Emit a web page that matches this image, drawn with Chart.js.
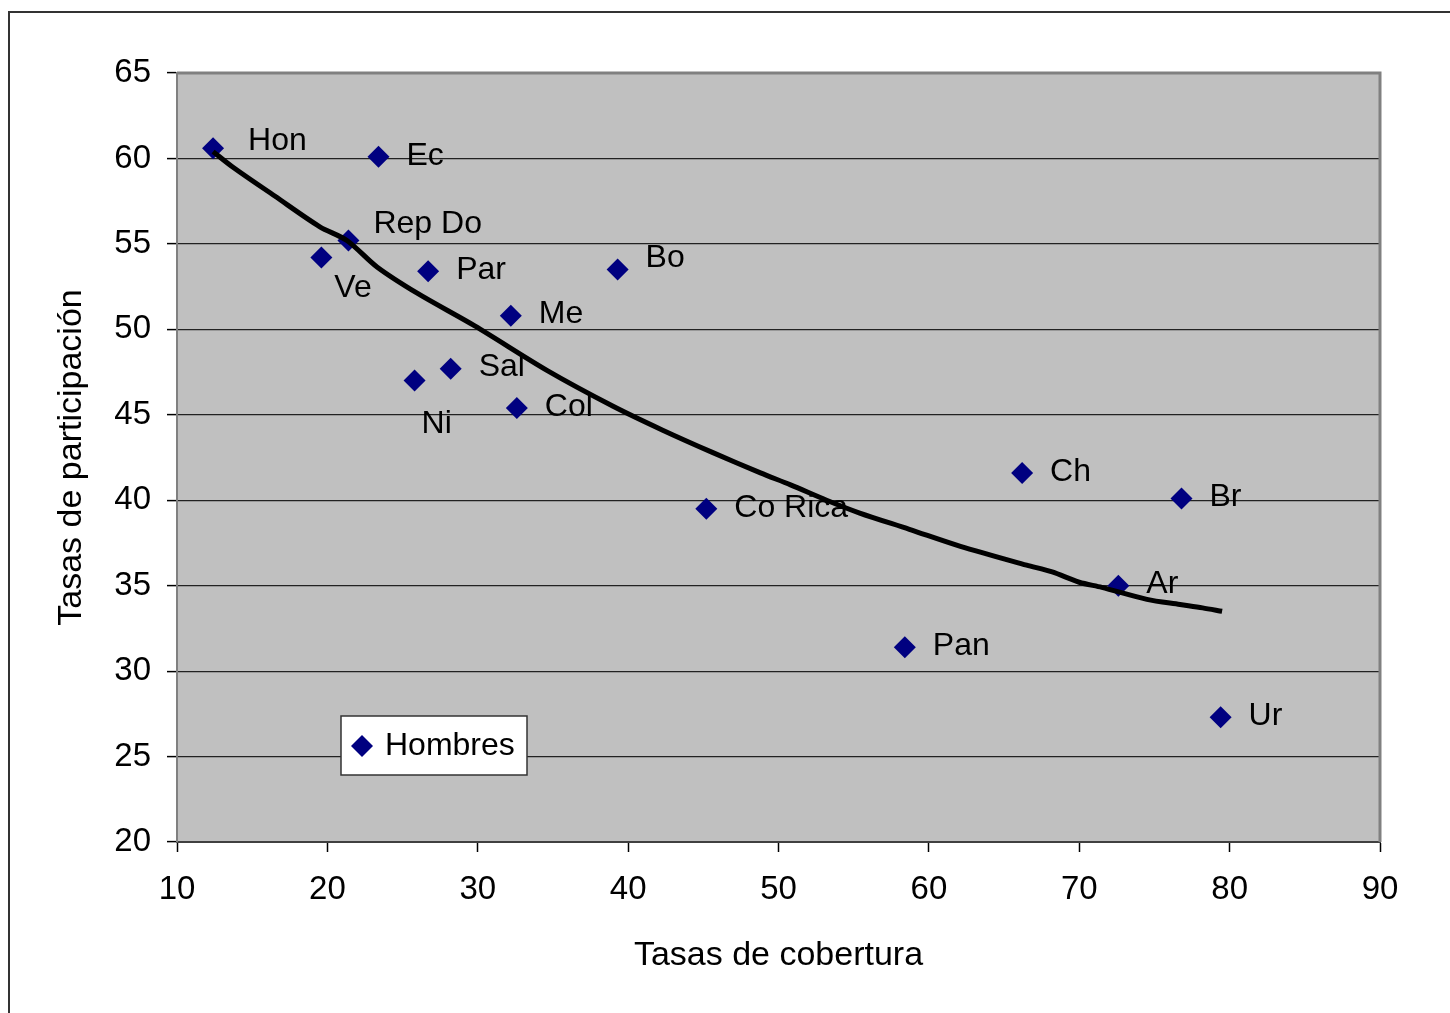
<!DOCTYPE html>
<html>
<head>
<meta charset="utf-8">
<script src="https://cdn.jsdelivr.net/npm/chart.js@4"></script>
<style>
  html, body { margin: 0; padding: 0; background: #fff; }
  #wrap { width: 1450px; height: 1013px; }
</style>
</head>
<body>
<div id="wrap"><canvas id="c" width="1450" height="1013"></canvas></div>
<script>
// ---- data ----
const countries = ["Hon", "Ec", "Rep Do", "Ve", "Par", "Bo", "Me", "Sal", "Ni", "Col", "Co Rica", "Ch", "Br", "Ar", "Pan", "Ur"];
const cobertura = [12.4, 23.4, 21.4, 19.6, 26.7, 39.3, 32.2, 28.2, 25.8, 32.6, 45.2, 66.2, 76.8, 72.6, 58.4, 79.4];
const participacion = [60.6, 60.1, 55.2, 54.2, 53.4, 53.5, 50.8, 47.7, 47.0, 45.4, 39.5, 41.6, 40.1, 35.0, 31.4, 27.3];
const trendX = [12.4, 13.7, 16.5, 19.5, 21.3, 23.3, 26.0, 29.8, 34.6, 39.0, 42.3, 45.6, 48.8, 50.8, 53.2, 55.4, 58.7, 62.1, 66.5, 68.2, 70.0, 71.5, 74.5, 76.7, 78.2, 79.5];
const trendY = [60.4, 59.5, 57.8, 56.0, 55.2, 53.65, 52.1, 50.2, 47.6, 45.5, 44.1, 42.8, 41.6, 40.9, 40.0, 39.25, 38.3, 37.3, 36.2, 35.8, 35.2, 34.9, 34.2, 33.9, 33.7, 33.5];
const seriesName = "Hombres";
const xTitle = "Tasas de cobertura";
const yTitle = "Tasas de participación";

// ---- label placement (style, not data) ----
const FONT = "'Liberation Sans', Arial, sans-serif";
const defaultOffset = [28, -1];
const labelOffsets = { "Hon": [35, -7], "Rep Do": [25, -16], "Ve": [13, 31], "Bo": [28, -11], "Ni": [7, 44] };

const scatterPts = cobertura.map((x, i) => ({ x: x, y: participacion[i] }));
const trendPts = trendX.map((x, i) => ({ x: x, y: trendY[i] }));

const decor = {
  id: 'decor',
  beforeDraw(chart) {
    const ctx = chart.ctx, a = chart.chartArea;
    ctx.save();
    ctx.fillStyle = '#ffffff';
    ctx.fillRect(0, 0, chart.width, chart.height);
    ctx.strokeStyle = '#333333';
    ctx.lineWidth = 2;
    ctx.beginPath();
    ctx.moveTo(9, chart.height + 2);
    ctx.lineTo(9, 12);
    ctx.lineTo(chart.width + 2, 12);
    ctx.stroke();
    ctx.fillStyle = '#c0c0c0';
    ctx.fillRect(a.left, a.top, a.right - a.left, a.bottom - a.top);
    ctx.restore();
  },
  afterDraw(chart) {
    const ctx = chart.ctx, a = chart.chartArea;
    ctx.save();
    ctx.strokeStyle = '#808080';
    ctx.lineWidth = 3;
    ctx.beginPath();
    ctx.moveTo(a.left, a.top);
    ctx.lineTo(a.right, a.top);
    ctx.lineTo(a.right, a.bottom);
    ctx.stroke();
    const meta = chart.getDatasetMeta(1);
    ctx.fillStyle = '#000';
    ctx.font = '32px ' + FONT;
    ctx.textBaseline = 'middle';
    ctx.textAlign = 'left';
    meta.data.forEach((el, i) => {
      const name = countries[i];
      const off = labelOffsets[name] || defaultOffset;
      ctx.fillText(name, el.x + off[0], el.y + off[1]);
    });
    const lx = a.left + 164, ly = a.top + 643, lw = 186, lh = 59;
    ctx.fillStyle = '#ffffff';
    ctx.fillRect(lx, ly, lw, lh);
    ctx.strokeStyle = '#333333';
    ctx.lineWidth = 1.5;
    ctx.strokeRect(lx, ly, lw, lh);
    const cx = lx + 21, cy = ly + 30, r = 11;
    ctx.fillStyle = '#000080';
    ctx.beginPath();
    ctx.moveTo(cx - r, cy); ctx.lineTo(cx, cy - r); ctx.lineTo(cx + r, cy); ctx.lineTo(cx, cy + r);
    ctx.closePath();
    ctx.fill();
    ctx.fillStyle = '#000';
    ctx.font = '32px ' + FONT;
    ctx.fillText(seriesName, lx + 44, cy);
    ctx.restore();
  }
};

new Chart(document.getElementById('c'), {
  data: {
    datasets: [
      {
        type: 'line',
        label: 'Tendencia',
        data: trendPts,
        borderColor: '#000',
        borderWidth: 5,
        pointRadius: 0,
        fill: false,
        tension: 0.3,
        order: 0
      },
      {
        type: 'scatter',
        label: seriesName,
        data: scatterPts,
        pointStyle: 'rectRot',
        pointRadius: 11,
        pointHoverRadius: 11,
        backgroundColor: '#000080',
        borderColor: '#000080',
        borderWidth: 0,
        order: 1
      }
    ]
  },
  options: {
    responsive: false,
    devicePixelRatio: 1,
    animation: false,
    layout: { padding: { left: 0, top: 73, right: 70, bottom: 0 } },
    plugins: { legend: { display: false }, tooltip: { enabled: false } },
    scales: {
      x: {
        type: 'linear',
        min: 10, max: 90,
        afterFit(s) { s.height = 171; },
        ticks: { stepSize: 10, color: '#000', font: { family: FONT, size: 33 }, padding: 18, maxRotation: 0 },
        grid: { drawOnChartArea: false, drawTicks: true, tickLength: 10, tickColor: '#000', tickWidth: 1.5 },
        border: { display: true, color: '#404040', width: 2 },
        title: { display: true, text: xTitle, color: '#000', font: { family: FONT, size: 34 }, padding: { top: 0, bottom: 37 } }
      },
      y: {
        type: 'linear',
        min: 20, max: 65,
        afterFit(s) { s.width = 177; },
        ticks: { stepSize: 5, color: '#000', font: { family: FONT, size: 33 }, padding: 16 },
        grid: { drawOnChartArea: true, color: '#222', lineWidth: 1.2, drawTicks: true, tickLength: 10, tickColor: '#000', tickWidth: 1.5 },
        border: { display: true, color: '#808080', width: 2 },
        title: { display: true, text: yTitle, color: '#000', font: { family: FONT, size: 34 }, padding: { top: 51, bottom: 0 } }
      }
    }
  },
  plugins: [decor]
});
</script>
</body>
</html>
